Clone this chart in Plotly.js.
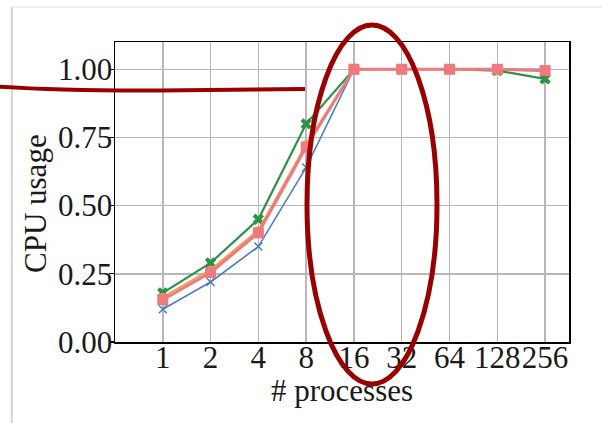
<!DOCTYPE html>
<html>
<head>
<meta charset="utf-8">
<script src="https://cdn.plot.ly/plotly-3.0.1.min.js"></script>
<style>
  html, body { margin: 0; padding: 0; background: #ffffff; }
  #wrap { position: relative; width: 602px; height: 423px; overflow: hidden; }
  #frame { position: absolute; left: 11px; top: 7px; width: 620px; height: 440px;
           border-left: 2px solid #d8d8d8; border-top: 1px solid #ececec;
           box-shadow: -1px -1px 3px rgba(0,0,0,0.06); }
  #chart { position: absolute; left: 0; top: 0; width: 602px; height: 423px; }
</style>
</head>
<body>
<div id="wrap">
  <div id="frame"></div>
  <div id="chart"></div>
</div>
<script>
const categories = ["1", "2", "4", "8", "16", "32", "64", "128", "256"];
const blueValues   = [0.12, 0.22, 0.35, 0.64, 1.0, 1.0, 1.0, 1.0, 1.0];
const orangeValues = [0.165, 0.265, 0.41, 0.725, 1.0, 1.0, 1.0, 1.0, 0.995];
const redValues    = [0.155, 0.255, 0.40, 0.715, 1.0, 1.0, 1.0, 1.0, 0.995];
const greenValues  = [0.18, 0.29, 0.45, 0.80, 1.0, 1.0, 1.0, 0.995, 0.965];
const yTicks = [0, 0.25, 0.5, 0.75, 1.0];

const serif = "Liberation Serif, Times New Roman, serif";
const FS = 31;

const traces = [
  { x: categories, y: blueValues, mode: "lines+markers", name: "blue",
    line: { color: "#4a7fbd", width: 1.6 },
    marker: { symbol: "x-thin", size: 8, color: "#4a7fbd", line: { color: "#4a7fbd", width: 1.5 } } },
  { x: categories, y: greenValues, mode: "lines+markers", name: "green",
    line: { color: "#2e9146", width: 2.2 },
    marker: { symbol: "x", size: 10, color: "#2e9146" } },
  { x: categories, y: orangeValues, mode: "lines+markers", name: "orange",
    line: { color: "#e9a25a", width: 2 },
    marker: { symbol: "circle", size: 8, color: "#e9a25a" } },
  { x: categories, y: redValues, mode: "lines+markers", name: "red",
    line: { color: "#ee7a7e", width: 3 },
    marker: { symbol: "square", size: 11, color: "#ee7a7e" } }
];

const L = 115, R = 569, T = 42, B = 342;
const px = v => (v - L) / (R - L);
const py = v => (B - v) / (B - T);

const layout = {
  width: 602, height: 423,
  margin: { l: L, r: 602 - R, t: T, b: 423 - B, pad: 0 },
  paper_bgcolor: "rgba(0,0,0,0)",
  plot_bgcolor: "#ffffff",
  showlegend: false,
  font: { family: serif, size: FS, color: "#1a1a1a" },
  xaxis: {
    type: "category", range: [-1, 8.5], tickangle: 0,
    showgrid: true, gridcolor: "#b8b8b8", gridwidth: 1.5,
    showline: true, linecolor: "#000", linewidth: 1.5, mirror: true,
    ticks: "", ticklabelstandoff: -13,
    tickfont: { family: serif, size: FS, color: "#1a1a1a" },
    title: { text: "" },
    zeroline: false, fixedrange: true
  },
  yaxis: {
    range: [0, 1.1], tickvals: yTicks, tickformat: ".2f",
    showgrid: true, gridcolor: "#b8b8b8", gridwidth: 1.5,
    showline: true, linecolor: "#000", linewidth: 1.5, mirror: true,
    ticks: "outside", ticklen: 5, tickwidth: 1.2, tickcolor: "#000",
    ticklabelstandoff: -10,
    tickfont: { family: serif, size: FS, color: "#1a1a1a" },
    title: { text: "" },
    zeroline: false, fixedrange: true
  },
  annotations: [
    { text: "# processes", xref: "paper", yref: "paper", x: 0.5, y: py(390),
      xanchor: "center", yanchor: "middle", showarrow: false,
      font: { family: serif, size: FS, color: "#1a1a1a" } },
    { text: "CPU usage", xref: "paper", yref: "paper", x: px(35), y: py(204),
      xanchor: "center", yanchor: "middle", showarrow: false, textangle: -90,
      font: { family: serif, size: FS, color: "#1a1a1a" } }
  ],
  shapes: [
    { type: "circle", xref: "paper", yref: "paper",
      x0: px(307), x1: px(437), y0: py(384), y1: py(25),
      line: { color: "#990000", width: 5 }, layer: "above" },
    { type: "path", xref: "paper", yref: "paper",
      path: `M ${px(-5)} ${py(86.5)} Q ${px(60)} ${py(91)} ${px(160)} ${py(90.5)} L ${px(305)} ${py(89)}`,
      line: { color: "#990000", width: 4 }, layer: "above" }
  ]
};

Plotly.newPlot("chart", traces, layout, { displayModeBar: false, staticPlot: true });
</script>
</body>
</html>
